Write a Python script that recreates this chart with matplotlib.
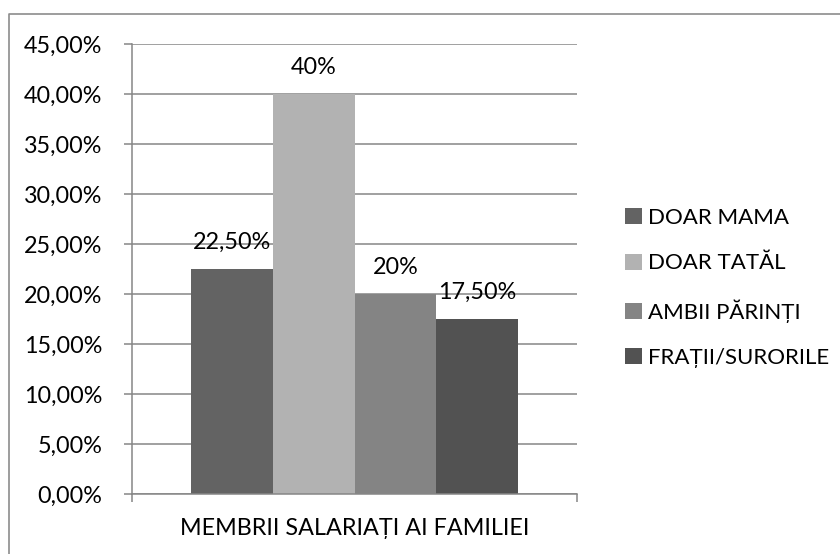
import numpy as np
import matplotlib
matplotlib.use("Agg")
import matplotlib.pyplot as plt
from matplotlib.ticker import FuncFormatter
from matplotlib.lines import Line2D
from matplotlib.patches import Patch

plt.rcParams['font.family'] = ['Lato', 'DejaVu Sans']

# date
series = ["DOAR MAMA", "DOAR TATĂL", "AMBII PĂRINȚI", "FRAȚII/SURORILE"]
values = [0.225, 0.40, 0.20, 0.175]
value_labels = ["22,50%", "40%", "20%", "17,50%"]
colors = ["#636363", "#b2b2b2", "#848484", "#525252"]
category = "MEMBRII SALARIAȚI AI FAMILIEI"

W, H = 840, 554
fig = plt.figure(figsize=(W / 100, H / 100), dpi=100)
ax = fig.add_axes([132 / W, 1 - 494 / H, (577 - 132) / W, (494 - 44) / H])

grey = "#868686"
fs = 16.8

w = 0.1835
for i, (v, c) in enumerate(zip(values, colors)):
    x = (i - 1.5) * w
    ax.bar(x, v, width=w, color=c, zorder=3)
    ax.annotate(value_labels[i], (x, v), xytext=(0, 19), textcoords="offset points",
                ha="center", va="center", fontsize=fs, zorder=4)

ax.set_xlim(-0.5, 0.5)
ax.set_ylim(0, 0.45)
ax.set_yticks(np.arange(0, 0.451, 0.05))
ax.yaxis.set_major_formatter(FuncFormatter(lambda v, p: ("%.2f%%" % (v * 100)).replace(".", ",")))
ax.yaxis.grid(True, color=grey, linewidth=1.1, zorder=0)
ax.tick_params(axis="y", length=5.8, width=1.1, color=grey, pad=15.5, labelsize=fs)
ax.set_xticks([-0.5, 0.5])
ax.set_xticklabels(["", ""])
ax.tick_params(axis="x", length=5.8, width=1.1, color=grey)
for s in ["top", "right"]:
    ax.spines[s].set_visible(False)
for s in ["left", "bottom"]:
    ax.spines[s].set_color(grey)
    ax.spines[s].set_linewidth(1.1)
    ax.spines[s].set_zorder(5)

ax.annotate(category, (0.5, 0), xycoords="axes fraction", xytext=(0, -24.5),
            textcoords="offset points", ha="center", va="center", fontsize=fs)

handles = [Patch(facecolor=c, edgecolor="none") for c in colors]
fig.legend(handles, series, loc="center left", bbox_to_anchor=(616 / W, 1 - 288 / H),
           frameon=False, fontsize=16, handlelength=0.75, handleheight=0.75,
           handletextpad=0.3, labelspacing=1.15, borderaxespad=0)

# chenarul exterior (doar sus si stanga se vad)
fig.add_artist(Line2D([8.5 / W, 8.5 / W, 1], [0, 1 - 14 / H, 1 - 14 / H],
                      transform=fig.transFigure, color="#8c8c8c", linewidth=1.2))

fig.savefig("out.png", dpi=100)
